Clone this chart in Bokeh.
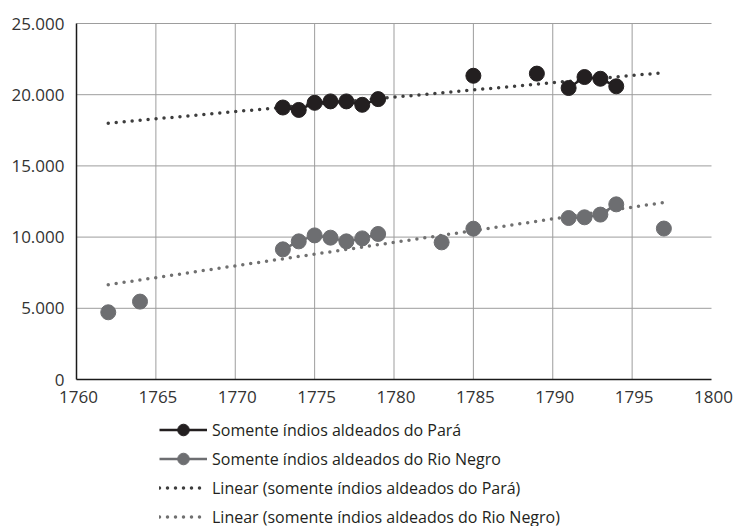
import math
from bokeh.plotting import figure
from bokeh.models import Legend, LegendItem
from bokeh.core.properties import value
from bokeh.embed import file_html
from bokeh.resources import INLINE

# ---- data ----
para_years = [1773, 1774, 1775, 1776, 1777, 1778, 1779, 1785, 1789, 1791, 1792, 1793, 1794]
para_values = [19100, 18930, 19430, 19530, 19530, 19290, 19690, 21330, 21480, 20470, 21240, 21120, 20590]

rio_years = [1762, 1764, 1773, 1774, 1775, 1776, 1777, 1778, 1779, 1783, 1785, 1791, 1792, 1793, 1794, 1797]
rio_values = [4720, 5470, 9140, 9700, 10120, 9960, 9700, 9910, 10220, 9630, 10590, 11340, 11390, 11580, 12300, 10600]

trend_years = [1762, 1797]
para_trend = [18000, 21550]
rio_trend = [6660, 12430]

x_ticks = [1760, 1765, 1770, 1775, 1780, 1785, 1790, 1795, 1800]
x_tick_labels = [str(t) for t in x_ticks]
y_ticks = [0, 5000, 10000, 15000, 20000, 25000]
y_tick_labels = ["0", "5.000", "10.000", "15.000", "20.000", "25.000"]

labels = [
    "Somente índios aldeados do Pará",
    "Somente índios aldeados do Rio Negro",
    "Linear (somente índios aldeados do Pará)",
    "Linear (somente índios aldeados do Rio Negro)",
]

PARA_COLOR = "#231f20"
RIO_COLOR = "#6d6e71"
PARA_TREND_COLOR = "#3d3d3d"
RIO_TREND_COLOR = "#707070"
GRID_COLOR = "#9d9d9d"
AXIS_COLOR = "#1a1a1a"
TICK_COLOR = "#333333"
FONT = "Open Sans"

# ---- layout: plot area in pixels inside the 734x526 canvas ----
W, H = 734, 526
AREA_LEFT, AREA_RIGHT, AREA_TOP, AREA_BOTTOM = 76, 711, 23, 379
x0, x1 = x_ticks[0], x_ticks[-1]
y0, y1 = y_ticks[0], y_ticks[-1]
xs = (x1 - x0) / (AREA_RIGHT - AREA_LEFT)
ys = (y1 - y0) / (AREA_BOTTOM - AREA_TOP)
X_RANGE = (x0 - AREA_LEFT * xs, x1 + (W - AREA_RIGHT) * xs)
Y_RANGE = (y0 - (H - AREA_BOTTOM) * ys, y1 + AREA_TOP * ys)


def with_gaps(xv, yv):
    ox, oy = [], []
    for i, (x, y) in enumerate(zip(xv, yv)):
        if i > 0 and x - xv[i - 1] > 1:
            ox.append(float("nan"))
            oy.append(float("nan"))
        ox.append(x)
        oy.append(y)
    return ox, oy


p = figure(
    width=W, height=H,
    x_range=X_RANGE, y_range=Y_RANGE,
    output_backend="svg", toolbar_location=None,
    x_axis_location=None, y_axis_location=None,
    min_border=0,
)
p.outline_line_color = None
p.background_fill_color = "white"
p.border_fill_color = "white"
p.grid.visible = False

# grid lines
gx = x_ticks[1:-1]
p.segment(x0=gx, y0=[y0] * len(gx), x1=gx, y1=[y1] * len(gx),
          line_color=GRID_COLOR, line_width=1)
gy = y_ticks[1:]
p.segment(x0=[x0] * len(gy), y0=gy, x1=[x1] * len(gy), y1=gy,
          line_color=GRID_COLOR, line_width=1)

# axis lines
p.segment(x0=[x0, x0], y0=[y0, y0], x1=[x0, x1], y1=[y1, y0],
          line_color=AXIS_COLOR, line_width=1.5)

# tick labels
p.text(x=x_ticks, y=[y0] * len(x_ticks), text=x_tick_labels,
       text_font=value(FONT), text_font_size="17px", text_color=TICK_COLOR,
       text_align="center", text_baseline="top", y_offset=11, x_offset=2)
p.text(x=[x0] * len(y_ticks), y=y_ticks, text=y_tick_labels,
       text_font=value(FONT), text_font_size="17px", text_color=TICK_COLOR,
       text_align="right", text_baseline="middle", x_offset=-12)

# trend lines
tr_para = p.line(trend_years, para_trend, line_color=PARA_TREND_COLOR, line_width=3.5,
                 line_dash="0 8", line_cap="round")
tr_rio = p.line(trend_years, rio_trend, line_color=RIO_TREND_COLOR, line_width=3.5,
                line_dash="0 8", line_cap="round")

# series
px, py = with_gaps(para_years, para_values)
rx, ry = with_gaps(rio_years, rio_values)
l_para = p.line(px, py, line_color=PARA_COLOR, line_width=2.5)
s_para = p.scatter(para_years, para_values, size=15, fill_color=PARA_COLOR, line_color=PARA_COLOR)
l_rio = p.line(rx, ry, line_color=RIO_COLOR, line_width=2.5)
s_rio = p.scatter(rio_years, rio_values, size=15, fill_color=RIO_COLOR, line_color=RIO_COLOR)

legend = Legend(
    items=[
        LegendItem(label=labels[0], renderers=[l_para, s_para]),
        LegendItem(label=labels[1], renderers=[l_rio, s_rio]),
        LegendItem(label=labels[2], renderers=[tr_para]),
        LegendItem(label=labels[3], renderers=[tr_rio]),
    ],
    location=(159, -5),
    orientation="vertical",
    glyph_width=48, glyph_height=29, label_height=29, spacing=0,
    label_standoff=5, padding=0, margin=0,
    border_line_color=None, background_fill_alpha=0,
    label_text_font=FONT, label_text_font_size="16px", label_text_color="#231f20",
)
p.add_layout(legend, "center")

open("out.html", "w").write(file_html(p, INLINE))
